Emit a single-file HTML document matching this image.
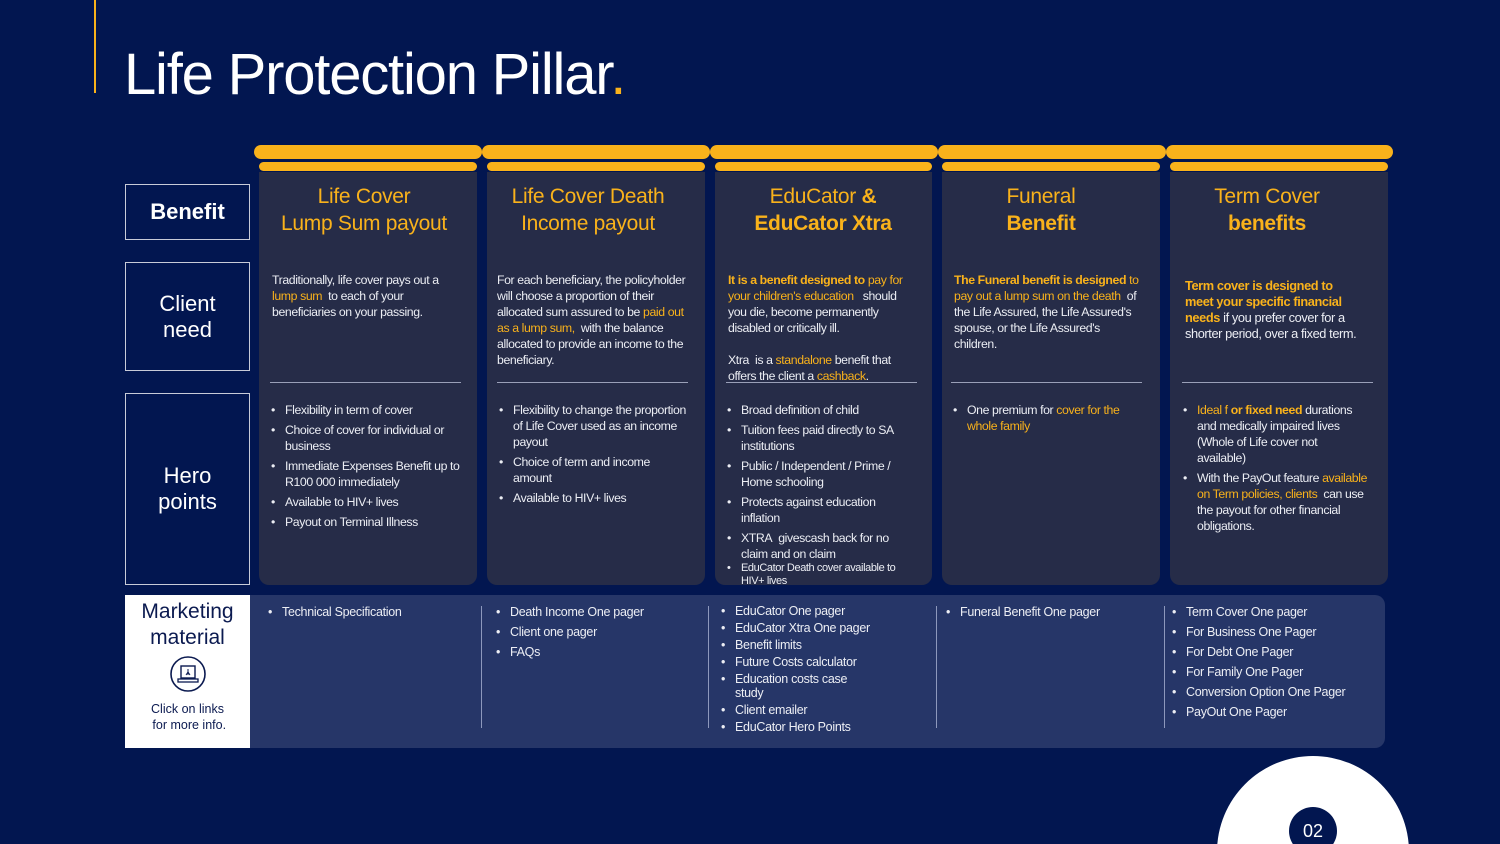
<!DOCTYPE html>
<html style="width:1500px;height:844px;overflow:hidden"><head><meta charset="utf-8"><style>
*{margin:0;padding:0;box-sizing:border-box}
body{width:1500px;height:844px;background:#021650;position:relative;overflow:hidden;font-family:"Liberation Sans",sans-serif;color:#eceef4}
.a{position:absolute}
.y{color:#f9b21b}
.b{font-weight:bold}
.bar{position:absolute;background:#f9b21b;border-radius:8px}
.panel{position:absolute;top:172px;width:218px;height:413px;background:#262c48;border-radius:0 0 10px 10px}
.h{position:absolute;top:183px;width:218px;text-align:center;color:#f9b21b;font-size:21px;line-height:27px;letter-spacing:-0.3px}
.t{position:absolute;font-size:12.3px;line-height:16px;letter-spacing:-0.4px;width:180px}
.hr{position:absolute;top:382px;width:191px;height:1px;background:#9aa0b8}
ul{list-style:none}
li{position:relative;padding-left:14px;margin-bottom:4px}
li:before{content:"•";position:absolute;left:0;top:0}
.lab{position:absolute;left:125px;width:125px;border:1.5px solid #c8cbd8;background:#021650;color:#fff;text-align:center;display:flex;align-items:center;justify-content:center;font-size:22px;line-height:26px}
.m{position:absolute;top:604px;font-size:12.5px;line-height:17px;letter-spacing:-0.3px}
.m li{margin-bottom:3px}
.vl{position:absolute;top:606px;width:1px;height:122px;background:#8d98bc}
</style></head><body>
<div class="a" style="left:94px;top:0;width:1.5px;height:93px;background:#f9b21b"></div>
<div class="a" style="left:124px;top:41px;font-size:58px;line-height:68px;letter-spacing:-1.2px;color:#fff">Life Protection Pillar<span class="y">.</span></div>

<div class="bar" style="left:254px;top:145px;width:228px;height:14px"></div>
<div class="bar" style="left:482px;top:145px;width:228px;height:14px"></div>
<div class="bar" style="left:710px;top:145px;width:228px;height:14px"></div>
<div class="bar" style="left:938px;top:145px;width:228px;height:14px"></div>
<div class="bar" style="left:1166px;top:145px;width:227px;height:14px"></div>
<div class="bar" style="left:259px;top:162px;width:218px;height:9px"></div>
<div class="bar" style="left:487px;top:162px;width:218px;height:9px"></div>
<div class="bar" style="left:715px;top:162px;width:217px;height:9px"></div>
<div class="bar" style="left:942px;top:162px;width:218px;height:9px"></div>
<div class="bar" style="left:1170px;top:162px;width:218px;height:9px"></div>

<div class="panel" style="left:259px"></div>
<div class="panel" style="left:487px"></div>
<div class="panel" style="left:715px;width:217px"></div>
<div class="panel" style="left:942px"></div>
<div class="panel" style="left:1170px"></div>

<div class="lab b" style="top:184px;height:56px">Benefit</div>
<div class="lab" style="top:262px;height:109px">Client<br>need</div>
<div class="lab" style="top:393px;height:192px">Hero<br>points</div>

<div class="h" style="left:255px">Life Cover<br>Lump Sum payout</div>
<div class="h" style="left:479px">Life Cover Death<br>Income payout</div>
<div class="h" style="left:714px">EduCator <b>&amp;</b><br><b>EduCator Xtra</b></div>
<div class="h" style="left:932px">Funeral<br><b>Benefit</b></div>
<div class="h" style="left:1158px">Term Cover<br><b>benefits</b></div>

<div class="t" style="left:272px;top:272px">Traditionally, life cover pays out a <span class="y">lump sum</span>&nbsp; to each of your beneficiaries on your passing.</div>
<div class="t" style="left:497px;top:272px;width:192px">For each beneficiary, the policyholder will choose a proportion of their allocated sum assured to be <span class="y">paid out as a lump sum,</span>&nbsp; with the balance allocated to provide an income to the beneficiary.</div>
<div class="t" style="left:728px;top:272px;width:185px"><span class="y b">It is a benefit designed to</span> <span class="y">pay for your children's education</span>&nbsp;&nbsp; should you die, become permanently disabled or critically ill.<br><br>Xtra&nbsp; is a <span class="y">standalone</span> benefit that offers the client a <span class="y">cashback</span>.</div>
<div class="t" style="left:954px;top:272px;width:185px"><span class="y b">The Funeral benefit is designed</span> <span class="y">to pay out a lump sum on the death</span>&nbsp; of the Life Assured, the Life Assured's spouse, or the Life Assured's children.</div>
<div class="t" style="left:1185px;top:278px;font-size:12.8px;width:178px"><span class="y b">Term cover is designed to meet your specific financial needs</span> if you prefer cover for a shorter period, over a fixed term.</div>

<div class="hr" style="left:270px"></div>
<div class="hr" style="left:497px"></div>
<div class="hr" style="left:726px"></div>
<div class="hr" style="left:951px"></div>
<div class="hr" style="left:1182px"></div>

<ul class="t" style="left:271px;top:402px;width:192px">
<li>Flexibility in term of cover</li>
<li>Choice of cover for individual or business</li>
<li>Immediate Expenses Benefit up to R100 000 immediately</li>
<li>Available to HIV+ lives</li>
<li>Payout on Terminal Illness</li></ul>
<ul class="t" style="left:499px;top:402px;width:192px">
<li>Flexibility to change the proportion of Life Cover used as an income payout</li>
<li>Choice of term and income amount</li>
<li>Available to HIV+ lives</li></ul>
<ul class="t" style="left:727px;top:402px;width:180px">
<li>Broad definition of child</li>
<li>Tuition fees paid directly to SA institutions</li>
<li>Public / Independent / Prime / Home schooling</li>
<li>Protects against education inflation</li>
<li style="margin-bottom:0">XTRA&nbsp; givescash back for no claim and on claim</li>
<li style="font-size:11px;line-height:13px;margin-bottom:0">EduCator Death cover available to HIV+ lives</li></ul>
<ul class="t" style="left:953px;top:402px;width:180px">
<li>One premium for <span class="y">cover for the whole family</span></li></ul>
<ul class="t" style="left:1183px;top:402px;width:185px">
<li><span class="y">Ideal f <b>or fixed need</b></span> durations and medically impaired lives (Whole of Life cover not available)</li>
<li>With the PayOut feature <span class="y">available on Term policies, clients</span>&nbsp; can use the payout for other financial obligations.</li></ul>

<div class="a" style="left:250px;top:595px;width:1135px;height:153px;background:#263668;border-radius:0 10px 10px 0"></div>
<div class="a" style="left:125px;top:595px;width:125px;height:153px;background:#fff;color:#0b1a50;text-align:center">
<div style="font-size:21px;line-height:26px;margin-top:4px">Marketing<br>material</div>
<svg width="38" height="38" viewBox="0 0 38 38" style="margin-top:4px"><circle cx="19" cy="19" r="17" fill="none" stroke="#0b1a50" stroke-width="1.6"/><rect x="12" y="11" width="14" height="12" fill="none" stroke="#0b1a50" stroke-width="1.4"/><rect x="9" y="24" width="20" height="3" fill="none" stroke="#0b1a50" stroke-width="1.3"/><path d="M19 14v6M17 20l2-3 2 3" stroke="#0b1a50" fill="none" stroke-width="1"/></svg>
<div style="font-size:12.5px;line-height:16px;margin-top:3px">Click on links<br>&nbsp;for more info.</div></div>

<div class="vl" style="left:481px"></div>
<div class="vl" style="left:708px"></div>
<div class="vl" style="left:936px"></div>
<div class="vl" style="left:1164px"></div>

<ul class="m" style="left:268px"><li>Technical Specification</li></ul>
<ul class="m" style="left:496px"><li>Death Income One pager</li><li>Client one pager</li><li>FAQs</li></ul>
<ul class="m" style="left:721px;line-height:14px"><li>EduCator One pager</li><li>EduCator Xtra One pager</li><li>Benefit limits</li><li>Future Costs calculator</li><li>Education costs case<br>study</li><li>Client emailer</li><li>EduCator Hero Points</li></ul>
<ul class="m" style="left:946px"><li>Funeral Benefit One pager</li></ul>
<ul class="m" style="left:1172px"><li>Term Cover One pager</li><li>For Business One Pager</li><li>For Debt One Pager</li><li>For Family One Pager</li><li>Conversion Option One Pager</li><li>PayOut One Pager</li></ul>

<div class="a" style="left:1217px;top:756px;width:192px;height:88px;overflow:hidden"><div style="width:192px;height:192px;border-radius:50%;background:#fff"></div></div>
<div class="a" style="left:1289px;top:807px;width:48px;height:37px;overflow:hidden"><div style="width:48px;height:48px;border-radius:50%;background:#021650;color:#fff;font-size:18px;text-align:center;line-height:48px">02</div></div>
</body></html>
